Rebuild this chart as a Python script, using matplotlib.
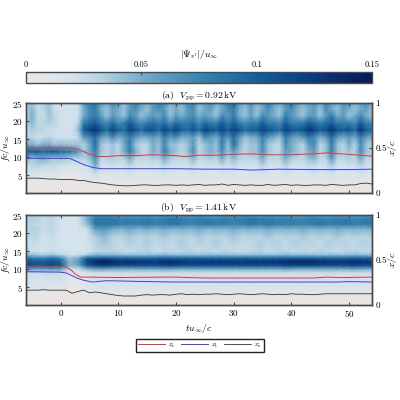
import numpy as np
import matplotlib
matplotlib.use('Agg')
import matplotlib.pyplot as plt
from matplotlib.cm import ScalarMappable
from matplotlib.colors import LinearSegmentedColormap, Normalize

plt.rcParams['font.family'] = ['cmr10', 'DejaVu Serif']
plt.rcParams['mathtext.fontset'] = 'cm'
plt.rcParams['axes.formatter.use_mathtext'] = True
plt.rcParams['axes.unicode_minus'] = False
plt.rcParams['font.size'] = 6.5

GREY = '#4a4a4a'

# spectrogram columns, tu/c
t_a = list(range(-6, 55))
t_b = [-6 + 1.5 * i for i in range(41)]

# panel (a), |Psi| in units of 0.01, one row per frequency
f_a = [0, 2, 3.5, 5.5, 7.5, 9.5, 11.5, 13.5, 15.5, 17.5, 19.5, 21.5, 23.5, 25]
psi_a = [
    [0] * 61,
    [.3,.3,.3,.3,.3,.3,.3,.3,.3,.3, .4,.3,.6,.4,.3,.5,.4,.6,.4,.3,.5,.4,.6,.3,.5,.7,.4,.3,.6,.4,.5,.3,.6,.4,.7,.5,.3,.6,.4,.5,.3,.7,.4,.5,.3,.6,.4,.5,.7,.3,.6,.4,.5,.7,.3,.6,.4,.5,.7,.4,.3],
    [.6,.6,.5,.5,.5,.5,.5,.4,.4,.4, .9,1,1.3,.9,.8,1.1,.9,1,1.1,.9,.8,1,1.1,.9,1.1,.9,1.1,.8,1,1.1,.9,1,.9,1.1,1,.8,1.1,.9,1,.9,1.1,1,.8,1.1,.9,1,1.1,.9,.8,1.1,1,.9,1.1,1.3,.9,.8,1,1.1,1.3,.9,.9],
    [1.4,1.9,1.8,1.8,1.5,1.3,1.1,.9,.8,.8, 1.6,1.8,2.4,1.6,1.6,1.8,1.6,1.6,2,1.6,1.6,1.6,1.8,1.6,2,1.6,1.6,1.6,1.7,2,1.6,1.8,1.6,1.6,2,1.6,2.1,1.6,1.6,1.7,1.6,2.1,1.6,1.6,1.6,2,1.8,1.6,1.6,1.9,2.1,1.6,1.6,2.4,1.6,1.6,1.8,1.6,2.2,1.6,1.6],
    [2,3,3,2.5,2.5,2.5,2,1.8,1.7,1.5, 2,2,5,2,1.9,2,1.8,2,3,2,1.9,1.8,2,2,3,2,1.9,1.8,1.9,2.5,1.9,2,1.9,1.8,2.5,1.9,2.5,1.9,1.8,2,1.9,3,1.9,1.8,1.9,3,2,1.8,1.9,2.5,2.5,1.8,2,3.5,1.9,1.8,2,1.9,3,1.9,1.8],
    [5,3.5,4.5,5,4,3.5,4,3.5,3,3, 3,4,7,3,3,3.5,3,3,5,3,3,2.8,3.5,3,5,3.5,3,2.8,3,4.5,2.8,3,3.5,3,5,3,4.5,3,2.8,3,3,5,3,2.8,3,5,3.5,3,2.8,4,4.5,2.8,3,6,3,2.8,3.5,3,5,3,2.8],
    [9.5,10,10.5,9,10,10.5,9,9,8,6.5, 4,5,8,4,3,4,3,5,8,5,3,3,5,4,8,5,4,3,4,7,3,4,5,4,7,4,6,4,3,4,4,7,4,3,3,6,5,4,3,5,6,3,4,8,4,3,4,3,7,4,3],
    [5,5,4,5,5,4,4.5,4,4,4, 3,5,9,4,3,4,3,5,8,4,3,3,5,4,7,4,4,3,4,6,3,4,5,4,8,4,9,5,3,4,4,7,4,3,3,7,5,4,3,6,7,3,4,8,4,3,5,3,7,4,3],
    [2.5,3,2.2,2.5,3,2.2,2.2,2.2,2.2,2.5, 6,7,9,6,5,7,5,6,8,6,5,5,6,5,8,6,7,5,5,6,4,7,6,5,8,6,9,6,4,5,5,8,6,5,4,8,6,5,6,8,7,5,6,9,6,5,6,5,8,6,5],
    [2.2,3.5,3,3,2.2,2.2,2,2,2,4, 10,12,13,11,9,12,10,9,12,11,9,11,11,9,12,10,12,10,9,11,9,12,11,10,12,10,12,11,9,10,10,12,11,10,9,12,11,10,11,13,12,10,11,13,11,10,11,9,13,10,9],
    [3,4.5,3,3,3.5,3,2,2,2,2.8, 8,9,10,8,7,9,7,8,10,8,7,8,9,8,9,7,9,8,8,9,7,9,8,8,10,8,10,8,7,8,8,10,8,8,7,10,8,8,8,10,9,8,9,10,8,8,8,7,10,8,7],
    [3,5,3,2.5,4,3,2.2,2,2,2, 5,7,8,6,4,6,5,4,7,6,4,5,6,5,7,4,6,5,6,7,5,6,5,4,7,6,8,5,4,6,4,7,6,5,4,8,6,5,4,6,6,4,6,8,5,6,4,5,7,5,4],
    [3,4.5,2.5,3,4,2.2,2,2,2,2, 5,7,8,5,4,6,5,4,6,7,5,4,6,7,6,4,5,4,6,7,4,5,6,4,5,7,8,5,4,6,4,5,7,5,4,6,7,5,4,5,6,4,7,5,4,6,5,4,5,6,4],
    [3,4,2.2,3,4,2.2,2,2,2,2, 6,8,9,6,5,7,6,4,6,8,6,5,6,8,7,5,6,5,7,8,5,6,7,5,6,8,9,6,5,7,5,6,8,6,5,7,8,6,5,6,7,5,8,6,5,7,6,5,6,7,5],
]

# panel (b)
f_b = [0, 2, 3.5, 5, 7, 9, 10, 11, 12, 13, 14, 15, 17, 19, 21, 22.5, 24, 25]
psi_b = [
    [0] * 41,
    [.2,.2,.2,.2,.2,.2,.2,.3,.4,.4,.3,.4,.3,.4,.3,.4,.3,.4,.4,.3,.4,.3,.4,.3,.4,.3,.4,.3,.4,.3,.4,.3,.4,.3,.4,.3,.4,.3,.4,.3,.3],
    [.5,.6,.5,.5,.5,.4,.3,.5,.8,.8,.8,.9,.7,.8,.9,.7,.8,.9,.7,.8,.9,.8,.7,.9,.8,.7,.8,.9,.7,.8,.8,.9,.7,.8,.9,.7,.8,.9,.8,.7,.8],
    [1.6,1.4,1.5,1.2,1.2,.7,.7,1.2,1.6,1.8,1.6,1.8,1.7,1.7,1.8,1.6,1.8,1.7,1.7,1.8,1.6,1.7,1.7,1.8,1.6,1.7,1.8,1.7,1.7,1.8,1.6,1.7,1.8,1.7,1.6,1.8,1.7,1.6,1.8,1.7,1.7],
    [2,1.9,1.8,2,1.9,1,.9,1.3,1.9,1.8,1.9,2.1,1.9,1.8,2,2.1,1.8,1.8,2,1.9,1.8,2,1.9,1.8,2,2,1.8,1.9,2,1.8,1.9,2,1.8,1.8,2,1.9,1.8,1.9,2.1,1.8,1.9],
    [2.8,2.5,2.5,2.8,2.5,1.4,1.2,1.7,2.3,2.3,2.3,2.5,2.3,2.3,2.5,2.3,2.3,2.5,2.3,2.3,2.5,2.3,2.3,2.5,2.3,2.3,2.5,2.3,2.3,2.5,2.3,2.3,2.5,2.3,2.3,2.5,2.3,2.3,2.5,2.3,2.3],
    [6,5.5,5.5,6,5.5,2.5,2.5,4.5,5.5,5.5,5,5,5,5,5,5,5.5,5,5,5,5,5,5,5,5,5,5,5,5,5,5.5,5,5,5,5,5,5,5,5.5,5,5],
    [11.5,10.5,10.5,11.5,10.5,4.5,5,10,11.5,12,11.5,11,11,11,11,11,11.5,11.5,11,11,11,11,11,11,11,11,11,11,11,11,11.5,11.5,11.5,11.5,11,11,11,11,11.5,11,11],
    [11,10.5,10.5,11,10,4.5,6,11.5,14,14.5,14,13,13.5,13,13,12.5,13.5,13.5,13,12.5,12.5,13,13,13,13,12.5,13,13,13,13,13.5,14,14,14,13.5,13,13,13,13.5,13,13],
    [9,8,8,9,8,4,5,10,10.5,11,10.5,10,10,10,10,10,10.5,10,10,10,10,10,10,10,10,10,10,10,10,10,10.5,10.5,10.5,10.5,10,10,10,10,10.5,10,10],
    [4.5,4,3.5,4,3,2.2,2.2,3.5,4.5,4.5,4.5,4.2,4.2,4.2,4.2,4.2,4.5,4.2,4.2,4.2,4.2,4.2,4.2,4.2,4.2,4.2,4.2,4.2,4.2,4.2,4.5,4.2,4.2,4.2,4.2,4.2,4.2,4.2,4.5,4.2,4.2],
    [2.5,2.2,2.1,2.5,2,1.9,1.8,2,2.8,3,3.2,2.8,2.5,3,3.2,2.5,3,2.6,3,3.2,2.5,3,2.6,3.2,2.8,2.6,3,3.2,2.6,3,3.2,2.6,3,2.6,3.2,2.8,2.6,3,3.2,2.6,3],
    [2.2,2.5,2.1,2.2,1.9,1.8,1.8,1.9,3,3.8,3,2.6,3.4,2.8,3.6,2.6,3.2,2.8,3.6,2.6,3.2,2.8,3.6,2.6,3.2,2.8,2.6,3.6,2.8,3.4,2.6,3.6,2.8,3.2,2.6,3.6,2.8,3.2,2.6,3.4,2.8],
    [2.5,3,2.1,2.5,1.9,1.8,1.8,1.9,3.5,4.5,3.4,3,3.8,3,3.4,3,3.8,3,3.4,3,3.8,3,3.4,3,3.8,3,3.4,3,3.8,3,3.4,3,3.8,3,3.4,3,3.8,3,3.4,3,3.4],
    [3,3.5,2.5,3,1.9,1.8,1.8,2.1,5.5,6,5,4.5,5.2,4.5,5,4.5,5,4.5,4.8,4.5,5,4.5,4.8,4.5,5,4.5,4.8,4.5,5,4.5,4.8,4.5,5,4.5,4.8,4.5,5,4.5,4.8,4.5,4.8],
    [3,3,2.5,3,1.9,1.8,1.8,4,8.5,8.5,8.5,8,8,8,8.5,8,8,8.5,8,7.5,8,8.5,8,8,7.5,8,8.5,8,8.5,8,8,8,7.5,8,8.5,8,8,8.5,8,8,8.5],
    [3,3.5,2.5,3,1.9,1.8,1.8,5,8.5,8.5,8.5,7.5,8,7.5,8,7.5,8,8.5,8,7.5,8,8,7.5,8,7.5,8,8.5,8,8,7.5,8,7.5,7.5,8,8,7.5,8,8,7.5,8,8],
    [3,3,2.5,3,1.9,1.8,1.8,4,6,6.5,6,5.5,6,5.5,6,5.5,6,6,5.5,5.5,6,5.5,5.5,6,5.5,6,6,5.5,6,5.5,6,5.5,5.5,6,5.5,5.5,6,5.5,5.5,6,5.5],
]

# boundary-layer positions, x/c
t_xr_a = [-6, 2, 3, 4, 5, 6.5, 8, 10, 13, 16, 20, 21.5, 24, 27, 30, 33, 36, 40, 44, 46, 50, 54]
xr_a = [.5, .5, .485, .46, .43, .405, .405, .415, .415, .425, .415, .405, .42, .42, .43, .435, .425, .425, .435, .445, .43, .41]
t_xt_a = [-6, 1.5, 2.5, 3.5, 4.5, 5.5, 7, 10, 20, 25, 30, 33, 38, 44, 50, 54]
xt_a = [.385, .385, .36, .33, .305, .285, .27, .27, .27, .265, .265, .255, .265, .26, .26, .265]
t_xs = list(range(-6, 55))
xs_a = [.165,.165,.165,.16,.155,.155,.15,.15,.15,.14,.14,.125,.115,.11,.1,.09,.085,.08,.08,.085,.09,.09,.085,.085,.09,.09,.085,.09,.085,.09,.095,.085,.09,.09,.1,.085,.095,.09,.085,.09,.085,.085,.095,.085,.09,.095,.085,.09,.085,.085,.09,.09,.085,.095,.09,.085,.09,.09,.105,.11,.1]
xs_b = [.165,.165,.165,.17,.165,.165,.165,.165,.13,.15,.165,.135,.145,.135,.125,.115,.105,.1,.1,.1,.11,.115,.11,.115,.115,.11,.12,.125,.115,.12,.115,.12,.12,.125,.12,.115,.12,.125,.12,.115,.12,.125,.12,.115,.12,.115,.125,.12,.12,.115,.115,.12,.125,.125,.125,.125,.125,.125,.125,.125,.125]
t_xr_b = [-6, 0, 1, 2, 2.5, 3.5, 5, 10, 18, 20, 25, 44, 46, 49, 54]
xr_b = [.43, .43, .42, .38, .345, .31, .31, .305, .31, .31, .3, .3, .31, .305, .31]
t_xt_b = [-6, 0, 1, 2, 3, 4, 5.5, 8, 15, 20, 30, 40, 48, 50, 54]
xt_b = [.37, .365, .355, .325, .295, .275, .255, .27, .26, .255, .255, .255, .255, .26, .255]

cb_ticks = [0, 0.05, 0.1, 0.15]
cb_labels = ['0', '0.05', '0.1', '0.15']
cmap = LinearSegmentedColormap.from_list('psi', [
    (0.0, '#ebe5e1'), (0.06, '#e3e6e9'), (0.13, '#d3e3ed'), (0.22, '#b5d2e3'),
    (0.35, '#6ea7c8'), (0.5, '#3b84b1'), (0.66, '#15619a'), (0.82, '#0b3d7e'), (1.0, '#08185a'),
])
norm = Normalize(0, 0.15)

fig = plt.figure(figsize=(4, 4), dpi=100)


def style_axes(ax):
    for s in ax.spines.values():
        s.set_linewidth(1.0)
        s.set_color(GREY)
    ax.tick_params(direction='in', length=2.5, width=0.8, color=GREY, top=True, pad=2.5)


def draw_panel(rect, t, f, psi, xr, xt, xs, title):
    ax = fig.add_axes(rect)
    z = np.array(psi) / 100.0
    ax.pcolormesh(t, f, z, cmap=cmap, norm=norm, shading='gouraud')
    ax.set_xlim(-6, 54)
    ax.set_ylim(0, 25)
    ax.set_yticks([5, 10, 15, 20, 25])
    ax.set_xticks(range(0, 51, 10))
    ax.set_ylabel(r'$fc/u_\infty$', fontsize=7)
    ax.yaxis.set_label_coords(-0.04, 0.5)
    ax.set_title(title, fontsize=7, pad=2.5)
    style_axes(ax)

    ax2 = ax.twinx()
    l1, = ax2.plot(xr[0], xr[1], color='#e8303a', lw=0.7)
    l2, = ax2.plot(xt[0], xt[1], color='#3a40e8', lw=0.7)
    l3, = ax2.plot(t_xs, xs, color='#333333', lw=0.6)
    ax2.set_ylim(0, 1)
    ax2.set_yticks([0, 0.5, 1])
    ax2.set_yticklabels(['0', '0.5', '1'])
    ax2.set_ylabel(r'$x/c$', fontsize=7)
    ax2.yaxis.set_label_coords(1.04, 0.5)
    style_axes(ax2)
    return ax, (l1, l2, l3)


ax_a, _ = draw_panel([0.065, 0.5175, 0.865, 0.225], t_a, f_a, psi_a,
                     (t_xr_a, xr_a), (t_xt_a, xt_a), xs_a,
                     r'(a)  $V_{\mathrm{pp}} = 0.92\,\mathrm{kV}$')
ax_a.set_xticklabels([])
ax_b, lines = draw_panel([0.065, 0.2375, 0.865, 0.225], t_b, f_b, psi_b,
                         (t_xr_b, xr_b), (t_xt_b, xt_b), xs_b,
                         r'(b)  $V_{\mathrm{pp}} = 1.41\,\mathrm{kV}$')
ax_b.set_xlabel(r'$tu_\infty/c$', fontsize=7, labelpad=2)

# colorbar on top
cax = fig.add_axes([0.065, 0.7925, 0.865, 0.0275])
cb = fig.colorbar(ScalarMappable(norm=norm, cmap=cmap), cax=cax, orientation='horizontal')
cb.set_ticks(cb_ticks)
cb.set_ticklabels(cb_labels)
cax.xaxis.set_ticks_position('top')
cax.xaxis.set_label_position('top')
cax.tick_params(direction='in', length=2.5, width=0.8, color=GREY, labelsize=6, pad=2)
cb.outline.set_linewidth(1.0)
cb.outline.set_edgecolor(GREY)
cb.set_label(r'$|\Psi_{v^{\prime}}|/u_\infty$', fontsize=7, labelpad=3)

leg = fig.legend(lines, [r'$x_{\mathrm{r}}$', r'$x_{\mathrm{t}}$', r'$x_{\mathrm{s}}$'],
                 loc='center', bbox_to_anchor=(0.5, 0.136), ncol=3, fontsize=5,
                 fancybox=False, framealpha=1, edgecolor='#222222',
                 handlelength=3.9, columnspacing=0.7, handletextpad=0.45,
                 borderpad=0.35, borderaxespad=0)
leg.get_frame().set_linewidth(1.0)

fig.savefig('out.png', dpi=100)
